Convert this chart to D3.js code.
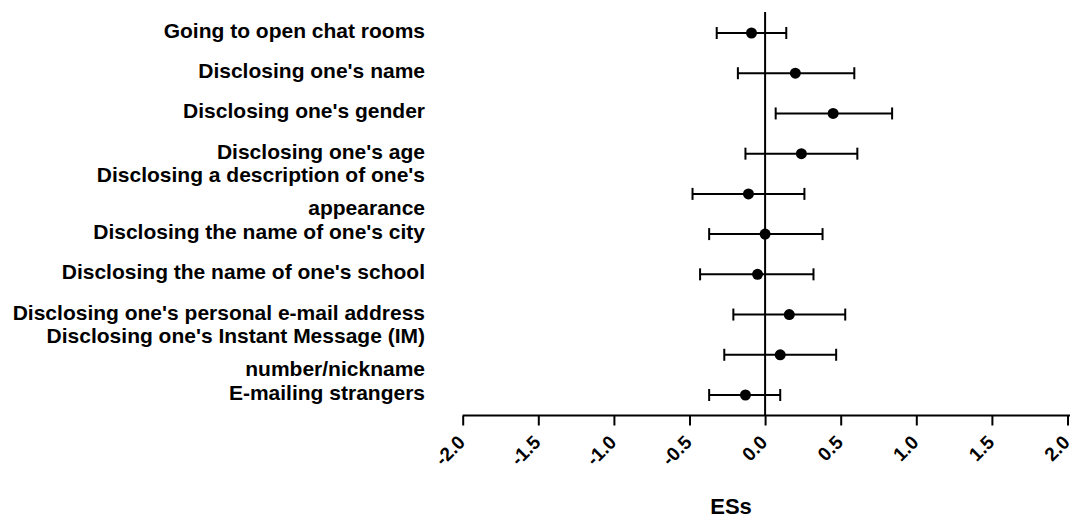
<!DOCTYPE html>
<html>
<head>
<meta charset="utf-8">
<script src="https://cdn.jsdelivr.net/npm/d3@7"></script>
<style>
  body { margin: 0; background: #fff; }
  svg text { font-family: "Liberation Sans", Arial, sans-serif; font-weight: bold; fill: #000; }
</style>
</head>
<body>
<div id="chart"></div>
<script>
// rows top to bottom, "\n" splits a label over two lines
const categories = [
  "Going to open chat rooms",
  "Disclosing one's name",
  "Disclosing one's gender",
  "Disclosing one's age",
  "Disclosing a description of one's\nappearance",
  "Disclosing the name of one's city",
  "Disclosing the name of one's school",
  "Disclosing one's personal e-mail address",
  "Disclosing one's Instant Message (IM)\nnumber/nickname",
  "E-mailing strangers"
];
const es    = [-0.09, 0.20, 0.45, 0.24, -0.11, 0.00, -0.05, 0.16, 0.10, -0.13];
const lower = [-0.32, -0.18, 0.07, -0.13, -0.48, -0.37, -0.43, -0.21, -0.27, -0.37];
const upper = [0.14, 0.59, 0.84, 0.61, 0.26, 0.38, 0.32, 0.53, 0.47, 0.10];
const xTicks = [-2.0, -1.5, -1.0, -0.5, 0.0, 0.5, 1.0, 1.5, 2.0];
const xTitle = "ESs";

const width = 1077, height = 521;
const rows = categories.map((c, i) => ({ name: c, es: es[i], lo: lower[i], hi: upper[i] }));

const svg = d3.select('#chart').append('svg')
  .attr('width', width)
  .attr('height', height);

const x = d3.scaleLinear().domain([-2, 2]).range([462.7, 1067.5]);
const y = d3.scalePoint().domain(categories).range([33, 395]);
const axisY = 415.5;

// zero line
svg.append('line')
  .attr('x1', x(0)).attr('x2', x(0))
  .attr('y1', 12).attr('y2', axisY)
  .attr('stroke', '#000').attr('stroke-width', 2);

// x axis
const ax = svg.append('g')
  .attr('transform', `translate(0,${axisY})`)
  .call(d3.axisBottom(x).tickValues(xTicks).tickFormat(d => d.toFixed(1)).tickSize(10).tickSizeOuter(0));
ax.select('.domain').attr('stroke', '#000').attr('stroke-width', 2).attr('d', `M${x(-2)},0H1070`);
ax.selectAll('.tick line').attr('stroke', '#000').attr('stroke-width', 2);
ax.selectAll('.tick text')
  .attr('x', 0).attr('y', 0).attr('dy', 0)
  .attr('text-anchor', 'end')
  .attr('font-size', 19)
  .attr('transform', 'translate(3,28) rotate(-45)');

svg.append('text')
  .attr('x', 731).attr('y', 514)
  .attr('text-anchor', 'middle')
  .attr('font-size', 22)
  .text(xTitle);

// error bars
const g = svg.append('g').selectAll('g').data(rows).enter().append('g');
g.append('line')
  .attr('x1', d => x(d.lo)).attr('x2', d => x(d.hi))
  .attr('y1', d => y(d.name)).attr('y2', d => y(d.name))
  .attr('stroke', '#000').attr('stroke-width', 2);
g.append('line')
  .attr('x1', d => x(d.lo)).attr('x2', d => x(d.lo))
  .attr('y1', d => y(d.name) - 6).attr('y2', d => y(d.name) + 6)
  .attr('stroke', '#000').attr('stroke-width', 2);
g.append('line')
  .attr('x1', d => x(d.hi)).attr('x2', d => x(d.hi))
  .attr('y1', d => y(d.name) - 6).attr('y2', d => y(d.name) + 6)
  .attr('stroke', '#000').attr('stroke-width', 2);
g.append('circle')
  .attr('cx', d => x(d.es)).attr('cy', d => y(d.name))
  .attr('r', 5.5).attr('fill', '#000');

// row labels
const lab = svg.append('g').selectAll('text').data(rows).enter().append('text')
  .attr('text-anchor', 'end')
  .attr('font-size', 21)
  .attr('y', d => y(d.name));
lab.each(function(d) {
  const lines = d.name.split('\n');
  const t = d3.select(this);
  lines.forEach((s, i) => {
    let dy = 5;
    if (lines.length == 2) dy = i == 0 ? -12 : 21;
    t.append('tspan').attr('x', 425).attr('y', y(d.name) + dy).text(s);
  });
});
</script>
</body>
</html>
